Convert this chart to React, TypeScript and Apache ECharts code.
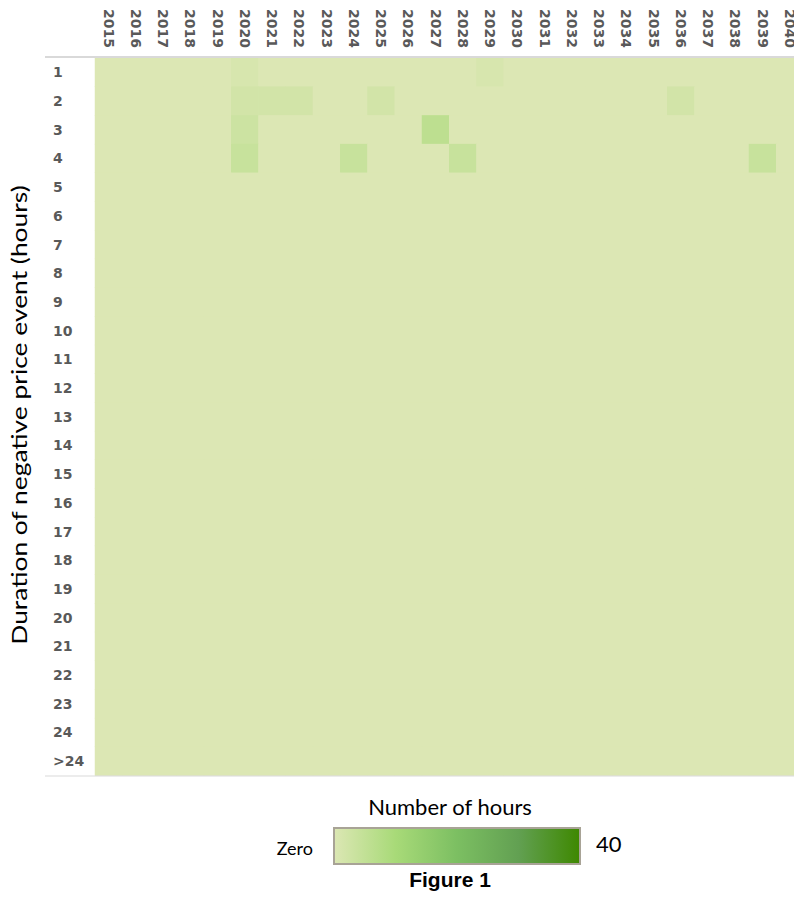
import React, { useEffect, useRef } from "react";
import * as echarts from "echarts";

const years = [
  "2015", "2016", "2017", "2018", "2019", "2020", "2021", "2022", "2023",
  "2024", "2025", "2026", "2027", "2028", "2029", "2030", "2031", "2032",
  "2033", "2034", "2035", "2036", "2037", "2038", "2039", "2040",
];

const durations = [
  "1", "2", "3", "4", "5", "6", "7", "8", "9", "10", "11", "12", "13",
  "14", "15", "16", "17", "18", "19", "20", "21", "22", "23", "24", ">24",
];

// Number of hours per duration row (columns follow `years`)
const hours1 = [0, 0, 0, 0, 0, 1, 0, 0, 0, 0, 0, 0, 0, 0, 1, 0, 0, 0, 0, 0, 0, 0, 0, 0, 0, 0];
const hours2 = [0, 0, 0, 0, 0, 2, 2, 2, 0, 0, 2, 0, 0, 0, 0, 0, 0, 0, 0, 0, 0, 2, 0, 0, 0, 0];
const hours3 = [0, 0, 0, 0, 0, 3, 0, 0, 0, 0, 0, 0, 6, 0, 0, 0, 0, 0, 0, 0, 0, 0, 0, 0, 0, 0];
const hours4 = [0, 0, 0, 0, 0, 4, 0, 0, 0, 4, 0, 0, 0, 4, 0, 0, 0, 0, 0, 0, 0, 0, 0, 0, 4, 0];
const hours5 = [0, 0, 0, 0, 0, 0, 0, 0, 0, 0, 0, 0, 0, 0, 0, 0, 0, 0, 0, 0, 0, 0, 0, 0, 0, 0];
const hours6 = [0, 0, 0, 0, 0, 0, 0, 0, 0, 0, 0, 0, 0, 0, 0, 0, 0, 0, 0, 0, 0, 0, 0, 0, 0, 0];
const hours7 = [0, 0, 0, 0, 0, 0, 0, 0, 0, 0, 0, 0, 0, 0, 0, 0, 0, 0, 0, 0, 0, 0, 0, 0, 0, 0];
const hours8 = [0, 0, 0, 0, 0, 0, 0, 0, 0, 0, 0, 0, 0, 0, 0, 0, 0, 0, 0, 0, 0, 0, 0, 0, 0, 0];
const hours9 = [0, 0, 0, 0, 0, 0, 0, 0, 0, 0, 0, 0, 0, 0, 0, 0, 0, 0, 0, 0, 0, 0, 0, 0, 0, 0];
const hours10 = [0, 0, 0, 0, 0, 0, 0, 0, 0, 0, 0, 0, 0, 0, 0, 0, 0, 0, 0, 0, 0, 0, 0, 0, 0, 0];
const hours11 = [0, 0, 0, 0, 0, 0, 0, 0, 0, 0, 0, 0, 0, 0, 0, 0, 0, 0, 0, 0, 0, 0, 0, 0, 0, 0];
const hours12 = [0, 0, 0, 0, 0, 0, 0, 0, 0, 0, 0, 0, 0, 0, 0, 0, 0, 0, 0, 0, 0, 0, 0, 0, 0, 0];
const hours13 = [0, 0, 0, 0, 0, 0, 0, 0, 0, 0, 0, 0, 0, 0, 0, 0, 0, 0, 0, 0, 0, 0, 0, 0, 0, 0];
const hours14 = [0, 0, 0, 0, 0, 0, 0, 0, 0, 0, 0, 0, 0, 0, 0, 0, 0, 0, 0, 0, 0, 0, 0, 0, 0, 0];
const hours15 = [0, 0, 0, 0, 0, 0, 0, 0, 0, 0, 0, 0, 0, 0, 0, 0, 0, 0, 0, 0, 0, 0, 0, 0, 0, 0];
const hours16 = [0, 0, 0, 0, 0, 0, 0, 0, 0, 0, 0, 0, 0, 0, 0, 0, 0, 0, 0, 0, 0, 0, 0, 0, 0, 0];
const hours17 = [0, 0, 0, 0, 0, 0, 0, 0, 0, 0, 0, 0, 0, 0, 0, 0, 0, 0, 0, 0, 0, 0, 0, 0, 0, 0];
const hours18 = [0, 0, 0, 0, 0, 0, 0, 0, 0, 0, 0, 0, 0, 0, 0, 0, 0, 0, 0, 0, 0, 0, 0, 0, 0, 0];
const hours19 = [0, 0, 0, 0, 0, 0, 0, 0, 0, 0, 0, 0, 0, 0, 0, 0, 0, 0, 0, 0, 0, 0, 0, 0, 0, 0];
const hours20 = [0, 0, 0, 0, 0, 0, 0, 0, 0, 0, 0, 0, 0, 0, 0, 0, 0, 0, 0, 0, 0, 0, 0, 0, 0, 0];
const hours21 = [0, 0, 0, 0, 0, 0, 0, 0, 0, 0, 0, 0, 0, 0, 0, 0, 0, 0, 0, 0, 0, 0, 0, 0, 0, 0];
const hours22 = [0, 0, 0, 0, 0, 0, 0, 0, 0, 0, 0, 0, 0, 0, 0, 0, 0, 0, 0, 0, 0, 0, 0, 0, 0, 0];
const hours23 = [0, 0, 0, 0, 0, 0, 0, 0, 0, 0, 0, 0, 0, 0, 0, 0, 0, 0, 0, 0, 0, 0, 0, 0, 0, 0];
const hours24 = [0, 0, 0, 0, 0, 0, 0, 0, 0, 0, 0, 0, 0, 0, 0, 0, 0, 0, 0, 0, 0, 0, 0, 0, 0, 0];
const hoursOver24 = [0, 0, 0, 0, 0, 0, 0, 0, 0, 0, 0, 0, 0, 0, 0, 0, 0, 0, 0, 0, 0, 0, 0, 0, 0, 0];

const hoursRows = [
  hours1, hours2, hours3, hours4, hours5, hours6, hours7, hours8, hours9,
  hours10, hours11, hours12, hours13, hours14, hours15, hours16, hours17,
  hours18, hours19, hours20, hours21, hours22, hours23, hours24, hoursOver24,
];

const scaleMin = 0;
const scaleMax = 40;
const scaleLabels = ["Zero", "40"];
const scaleColors = ["#DCE7B4", "#A8DA78", "#7CBF62", "#62A052", "#3E8800"];

export default function App() {
  const ref = useRef<HTMLDivElement>(null);

  useEffect(() => {
    if (!ref.current) return;
    const chart = echarts.init(ref.current, null, { renderer: "svg" });

    const data: number[][] = [];
    hoursRows.forEach((row, yi) => {
      row.forEach((v, xi) => data.push([xi, yi, v]));
    });

    const gridLeft = 95;
    const gridTop = 58;
    const cellW = 27.25;
    const cellH = 28.7;
    const gridW = cellW * years.length;
    const gridH = cellH * durations.length;

    const legendX = 334;
    const legendY = 828;
    const legendW = 246;
    const legendH = 36;

    chart.setOption({
      animation: false,
      backgroundColor: "#ffffff",
      grid: {
        left: gridLeft,
        top: gridTop,
        width: gridW,
        height: gridH,
        show: true,
        backgroundColor: scaleColors[0],
        borderWidth: 0,
      },
      xAxis: {
        type: "category",
        data: years,
        position: "top",
        axisLine: { show: false },
        axisTick: { show: false },
        splitLine: { show: false },
        axisLabel: {
          rotate: 90,
          interval: 0,
          margin: 10,
          fontFamily: "DejaVu Sans",
          fontWeight: "bold",
          fontSize: 14,
          color: "#595959",
        },
      },
      yAxis: {
        type: "category",
        data: durations,
        inverse: true,
        axisLine: { show: false },
        axisTick: { show: false },
        splitLine: { show: false },
        axisLabel: {
          interval: 0,
          align: "left",
          margin: 42,
          fontFamily: "DejaVu Sans",
          fontWeight: "bold",
          fontSize: 14,
          color: "#595959",
        },
      },
      visualMap: {
        show: false,
        type: "continuous",
        min: scaleMin,
        max: scaleMax,
        dimension: 2,
        seriesIndex: 0,
        inRange: { color: scaleColors },
      },
      series: [
        {
          type: "heatmap",
          data,
          itemStyle: { borderWidth: 0 },
          emphasis: { disabled: true },
        },
      ],
      graphic: [
        {
          type: "line",
          shape: { x1: 45, y1: gridTop - 1, x2: 820, y2: gridTop - 1 },
          style: { stroke: "#D9D9D9", lineWidth: 2 },
          z: 10,
        },
        {
          type: "line",
          shape: { x1: 45, y1: gridTop + gridH + 0.5, x2: 820, y2: gridTop + gridH + 0.5 },
          style: { stroke: "#D9D9D9", lineWidth: 1 },
          z: 10,
        },
        {
          type: "text",
          x: 18,
          y: 415,
          rotation: Math.PI / 2,
          scaleX: 1.2,
          style: {
            text: "Duration of negative price event (hours)",
            fontFamily: "Lato",
            fontSize: 22,
            fill: "#000000",
            align: "center",
            verticalAlign: "middle",
          },
        },
        {
          type: "text",
          x: 450,
          y: 806,
          style: {
            text: "Number of hours",
            fontFamily: "Lato",
            fontSize: 22,
            fill: "#000000",
            align: "center",
            verticalAlign: "middle",
          },
        },
        {
          type: "rect",
          shape: { x: legendX, y: legendY, width: legendW, height: legendH },
          style: {
            fill: new echarts.graphic.LinearGradient(
              0, 0, 1, 0,
              scaleColors.map((c, i) => ({ offset: i / (scaleColors.length - 1), color: c }))
            ),
            stroke: "#A8A396",
            lineWidth: 2,
          },
        },
        {
          type: "text",
          x: legendX - 21,
          y: legendY + 20,
          style: {
            text: scaleLabels[0],
            fontFamily: "Lato",
            fontSize: 18,
            fill: "#000000",
            align: "right",
            verticalAlign: "middle",
          },
        },
        {
          type: "text",
          x: legendX + legendW + 16,
          y: legendY + 15,
          style: {
            text: scaleLabels[1],
            fontFamily: "Lato",
            fontSize: 22,
            fill: "#000000",
            align: "left",
            verticalAlign: "middle",
          },
        },
        {
          type: "text",
          x: 450,
          y: 879,
          style: {
            text: "Figure 1",
            fontFamily: "Liberation Sans",
            fontWeight: "bold",
            fontSize: 21,
            fill: "#000000",
            align: "center",
            verticalAlign: "middle",
          },
        },
      ],
    });

    return () => chart.dispose();
  }, []);

  return (
    <div
      style={{
        position: "absolute",
        left: 0,
        top: 0,
        width: 794,
        height: 901,
        overflow: "hidden",
      }}
    >
      <div ref={ref} style={{ width: 820, height: 901 }} />
    </div>
  );
}
